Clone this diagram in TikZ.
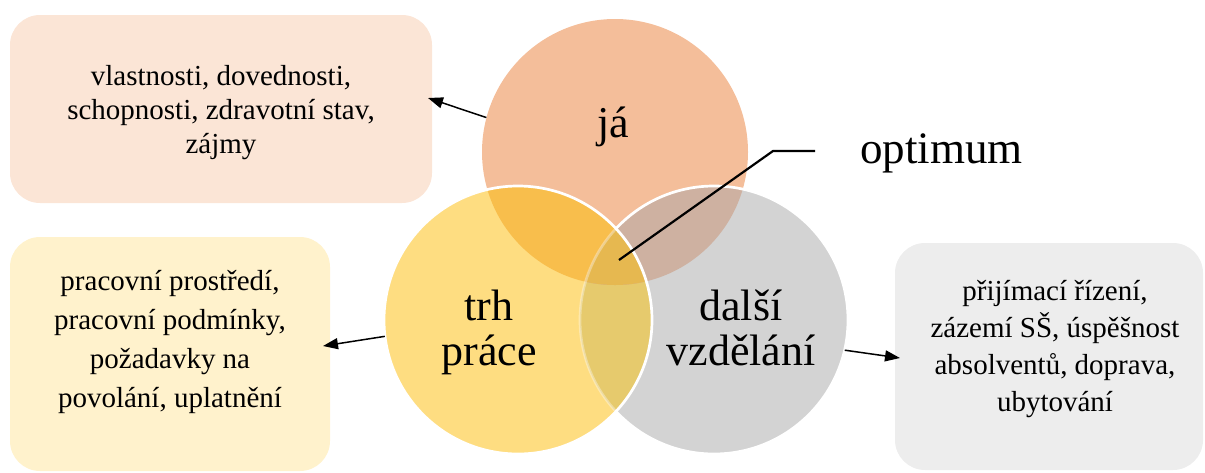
\documentclass[tikz,border=0pt]{standalone}
\usepackage{fontspec}
\setmainfont{Liberation Serif}
\usetikzlibrary{arrows.meta}
\definecolor{jaC}{HTML}{F4BE9A}
\definecolor{trhC}{HTML}{FEDD81}
\definecolor{dalC}{HTML}{D3D3D3}
\definecolor{jtC}{HTML}{F8BE4C}
\definecolor{jdC}{HTML}{CEB1A1}
\definecolor{tdC}{HTML}{E6CA6D}
\definecolor{allC}{HTML}{E6B850}
\definecolor{boxA}{HTML}{FBE5D6}
\definecolor{boxB}{HTML}{FFF2CC}
\definecolor{boxC}{HTML}{EDEDED}
\begin{document}
\begin{tikzpicture}[x=1pt,y=-1pt,
  infobox/.style={rectangle, rounded corners=30pt, inner sep=0pt, draw=none},
  boxtext/.style={align=center, anchor=base, inner sep=0pt},
  lbl/.style={font=\fontsize{44}{45}\selectfont, align=center, anchor=base, inner sep=0pt},
  venn/.style={circle, inner sep=0pt, draw=none},
  pointer/.style={line width=1.5pt, -{Triangle[length=15pt,width=11pt]}},
  rim/.style={draw=white, line width=2.7pt}]
\useasboundingbox (0,0) rectangle (1205,472);
% boxes
\node[infobox, fill=boxA, minimum width=422pt, minimum height=188pt] (boxja) at (221,109) {};
\node[infobox, fill=boxB, minimum width=320pt, minimum height=234pt] (boxtrh) at (170,354) {};
\node[infobox, fill=boxC, minimum width=308pt, minimum height=227pt] (boxdal) at (1049,356.5) {};
\node[boxtext, font=\fontsize{29}{34}\selectfont] (tja) at (221,153)
  {vlastnosti, dovednosti,\\schopnosti, zdravotní stav,\\zájmy};
\node[boxtext, font=\fontsize{29}{39}\selectfont] (ttrh) at (170,407)
  {pracovní prostředí,\\pracovní podmínky,\\požadavky na\\povolání, uplatnění};
\node[boxtext, font=\fontsize{29}{37}\selectfont] (tdal) at (1055,411)
  {přijímací řízení,\\zázemí SŠ, úspěšnost\\absolventů, doprava,\\ubytování};
% circles (names)
\node[venn, minimum size=266pt] (ja) at (615,152) {};
\node[venn, minimum size=268pt] (trh) at (518,320) {};
\node[venn, minimum size=268pt] (dal) at (714,320) {};
% fills
\fill[jaC] (615,152) circle[radius=133pt];
\fill[trhC] (518,320) circle[radius=134pt];
\fill[dalC] (714,320) circle[radius=134pt];
\begin{scope}
  \clip (518,320) circle[radius=134pt];
  \fill[tdC] (714,320) circle[radius=134pt];
\end{scope}
\begin{scope}
  \clip (615,152) circle[radius=133pt];
  \fill[jtC] (518,320) circle[radius=134pt];
  \fill[jdC] (714,320) circle[radius=134pt];
  \clip (518,320) circle[radius=134pt];
  \fill[allC] (714,320) circle[radius=134pt];
\end{scope}
% white rims
\begin{scope}[even odd rule]
  \clip (0,0) rectangle (1205,472) (518,320) circle[radius=134pt];
  \draw[rim] (714,320) circle[radius=134pt];
\end{scope}
\begin{scope}
  \clip (518,320) circle[radius=134pt];
  \draw[rim, draw opacity=0.35] (714,320) circle[radius=134pt];
\end{scope}
\draw[rim] (518,320) circle[radius=134pt];
% labels
\node[lbl] (lja) at (613.5,137) {já};
\node[lbl] (ltrh) at (489,365) {trh\\práce};
\node[lbl] (ldal) at (741,365) {další\\vzdělání};
\node[anchor=base, inner sep=0pt, font=\fontsize{45}{46}\selectfont] (opt) at (941.5,163) {optimum};
% connectors
\coordinate (tipja) at (428,98);
\coordinate (tiptrh) at (323,346);
\coordinate (tipdal) at (900,358);
\draw[pointer] (ja.165) -- (tipja);
\draw[pointer] (trh.187) -- (tiptrh);
\draw[pointer] (dal.-13.4) -- (tipdal);
\coordinate (optA) at (619,260);
\coordinate (optB) at (773,151);
\coordinate (optC) at (815,151);
\draw[line width=2.2pt] (optA) -- (optB) -- (optC);
\end{tikzpicture}
\end{document}
